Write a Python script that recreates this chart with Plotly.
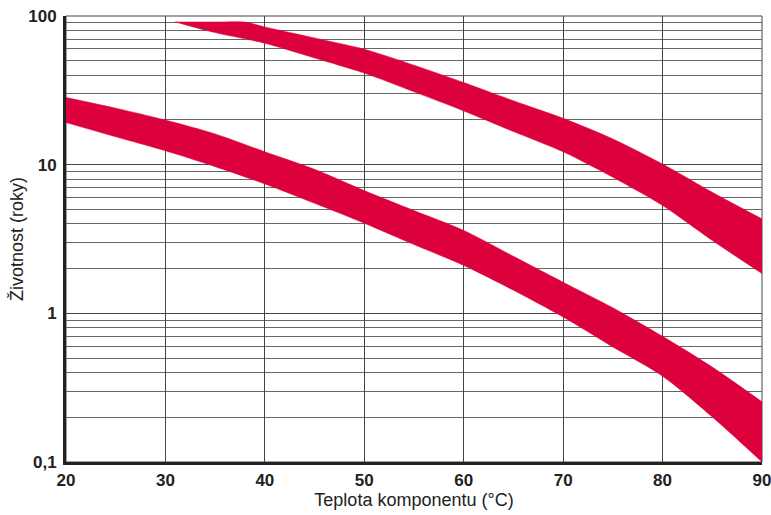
import plotly.graph_objects as go

# Upper band (longer-life component) edges
upper_top_x = [31, 35, 38, 40, 45, 50, 55, 60, 65, 70, 75, 80, 85, 90]
upper_top = [91.2, 91.2, 91.0, 84.4, 71.2, 59.8, 46.7, 35.7, 26.9, 20.5, 14.9, 10.1, 6.52, 4.32]
upper_bot_x = [31, 35, 40, 45, 50, 55, 60, 65, 70, 75, 80, 85, 90]
upper_bot = [91.2, 77.3, 65.6, 52.2, 41.3, 30.9, 23.0, 16.7, 12.2, 8.22, 5.31, 3.09, 1.85]

# Lower band edges
lower_x = [20, 25, 30, 35, 40, 45, 50, 55, 60, 65, 70, 75, 80, 85, 90]
lower_top = [28.3, 24.0, 19.95, 16.1, 12.2, 9.3, 6.69, 4.91, 3.61, 2.42, 1.62, 1.09, 0.70, 0.435, 0.254]
lower_bot = [19.2, 15.4, 12.4, 9.7, 7.42, 5.5, 4.04, 2.90, 2.10, 1.43, 0.944, 0.594, 0.378, 0.201, 0.1]

x_ticks = [20, 30, 40, 50, 60, 70, 80, 90]
y_ticks = [0.1, 1, 10, 100]
y_ticktext = ["0,1", "1", "10", "100"]
minor_vals = [m * d for d in (0.1, 1, 10) for m in range(2, 10)]

RED = "#DC003C"
FONT = "Liberation Sans, Arial, sans-serif"

fig = go.Figure()


def band(xb, yb, xt, yt):
    fig.add_trace(go.Scatter(
        x=xb, y=yb, mode="lines", line=dict(color=RED, width=0.5, shape="spline", smoothing=0.8),
        hoverinfo="skip", showlegend=False))
    fig.add_trace(go.Scatter(
        x=xt, y=yt, mode="lines", fill="tonexty", fillcolor=RED,
        line=dict(color=RED, width=0.5, shape="spline", smoothing=0.8),
        hoverinfo="skip", showlegend=False))


band(upper_bot_x, upper_bot, upper_top_x, upper_top)
band(lower_x, lower_bot, lower_x, lower_top)

fig.update_layout(
    width=771, height=515,
    margin=dict(l=66, r=9, t=16, b=53),
    paper_bgcolor="white", plot_bgcolor="white",
    font=dict(family=FONT, color="#222", size=14),
    showlegend=False,
    xaxis=dict(
        range=[20, 90], tickvals=x_ticks, automargin=False,
        ticklabeloverflow="allow",
        tickfont=dict(family=FONT, size=17, color="#222", weight="bold"),
        showgrid=True, gridcolor="#444", gridwidth=1,
        showline=True, linecolor="#222", linewidth=3,
        ticks="outside", ticklen=1, tickcolor="rgba(0,0,0,0)",
        zeroline=False,
        title=dict(text="Teplota komponentu (°C)", font=dict(size=18, family=FONT, color="#222"), standoff=2),
    ),
    yaxis=dict(
        type="log", range=[-1, 2], automargin=False,
        ticklabeloverflow="allow",
        tickvals=y_ticks, ticktext=y_ticktext,
        tickfont=dict(family=FONT, size=17, color="#222", weight="bold"),
        showgrid=True, gridcolor="#444", gridwidth=1,
        minor=dict(tickvals=minor_vals, showgrid=True, gridcolor="#666", gridwidth=1, ticks=""),
        showline=True, linecolor="#222", linewidth=3,
        ticks="outside", ticklen=3, tickcolor="rgba(0,0,0,0)",
        zeroline=False,
        title=dict(text="Životnost (roky)", font=dict(size=18, family=FONT, color="#222"), standoff=0),
    ),
    shapes=[dict(type="rect", xref="paper", yref="paper", x0=0, x1=1, y0=0, y1=1,
                 line=dict(color="#444", width=1), layer="below")],
)

fig.write_html(
    "out.html",
    config={"displayModeBar": False},
    post_script="document.body.style.margin='0';document.body.style.overflow='hidden';",
)
